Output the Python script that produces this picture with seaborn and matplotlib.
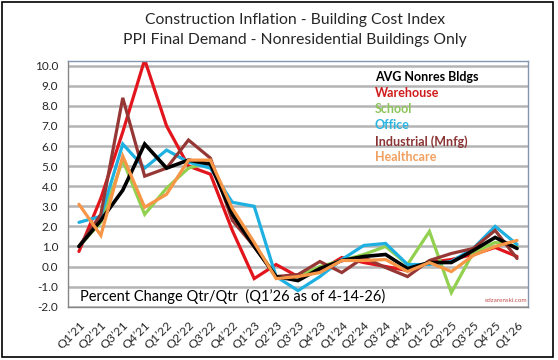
import pandas as pd
import seaborn as sns
import matplotlib.pyplot as plt
from matplotlib.patches import Rectangle

# Datos (variacion % trimestral)
quarters = ["Q1’21", "Q2’21", "Q3’21", "Q4’21", "Q1’22", "Q2’22", "Q3’22", "Q4’22",
            "Q1’23", "Q2’23", "Q3’23", "Q4’23", "Q1’24", "Q2’24", "Q3’24", "Q4’24",
            "Q1’25", "Q2’25", "Q3’25", "Q4’25", "Q1’26"]
avg_nonres = [1.0, 2.3, 3.8, 6.1, 4.9, 5.3, 5.1, 2.6, 1.0, -0.5, -0.7, -0.1, 0.3, 0.5, 0.6, -0.1, 0.2, 0.2, 0.8, 1.45, 0.9]
warehouse = [0.75, 3.4, 6.7, 10.3, 7.0, 5.0, 4.6, 1.8, -0.6, 0.1, -0.5, -0.2, 0.45, 0.2, 0.0, -0.2, 0.2, 0.35, 0.6, 0.95, 0.5]
school = [1.0, 2.2, 5.3, 2.6, 3.9, 4.9, 5.2, 2.8, 1.1, -0.5, -0.5, 0.0, 0.3, 0.6, 1.0, 0.1, 1.75, -1.3, 0.7, 1.2, 1.0]
office = [2.2, 2.5, 6.1, 4.9, 5.8, 5.2, 4.9, 3.2, 3.0, -0.5, -1.2, -0.5, 0.35, 1.05, 1.15, 0.1, 0.1, 0.25, 0.9, 2.0, 1.1]
industrial = [1.0, 2.6, 8.4, 4.5, 4.9, 6.3, 5.4, 2.3, 1.0, -0.5, -0.4, 0.25, -0.3, 0.45, -0.05, -0.5, 0.3, 0.65, 0.9, 1.8, 0.4]
healthcare = [3.1, 1.55, 5.5, 2.95, 3.6, 5.3, 5.3, 2.9, 1.2, -0.6, -0.5, -0.3, 0.3, 0.3, 0.35, -0.25, 0.2, -0.25, 0.55, 1.0, 1.3]

series = ["AVG Nonres Bldgs", "Warehouse", "School", "Office", "Industrial (Mnfg)", "Healthcare"]
line_colors = ["#000000", "#e3151c", "#92d050", "#1fb0e2", "#953735", "#f79646"]
text_colors = ["#000000", "#d01c1c", "#8cc45a", "#2ab4e0", "#8b3434", "#f0a060"]

df = pd.DataFrame({"Quarter": quarters, series[0]: avg_nonres, series[1]: warehouse,
                   series[2]: school, series[3]: office, series[4]: industrial, series[5]: healthcare})
df_long = df.melt(id_vars="Quarter", var_name="Serie", value_name="Pct")

sns.set_style("white")
plt.rcParams["font.family"] = ["Lato", "DejaVu Sans"]

fig = plt.figure(figsize=(5.58, 3.6), dpi=100)
ax = fig.add_axes([68 / 558, 1 - 306.7 / 360, 460 / 558, (306.7 - 60.7) / 360])

# Orden de dibujo: promedio casi encima, healthcare al final
draw_order = [series[1], series[2], series[3], series[4], series[0], series[5]]
sns.lineplot(data=df_long, x="Quarter", y="Pct", hue="Serie", hue_order=draw_order,
             palette=dict(zip(series, line_colors)), linewidth=2.3, ax=ax, legend=False,
             sort=False)
for ln in ax.get_lines():
    ln.set_solid_joinstyle("miter")
    if ln.get_color() in ("#000000", "k", (0.0, 0.0, 0.0, 1.0)):
        ln.set_linewidth(2.6)

ax.set_ylim(-2.0, 10.25)
ax.set_xlim(-0.5, len(quarters) - 0.5)
ax.set_yticks([v for v in range(-2, 11)])
ax.set_yticklabels([f"{v:.1f}" for v in range(-2, 11)], fontsize=8.5)
ax.set_xticks(range(len(quarters)))
ax.set_xticklabels(quarters, rotation=45, ha="right", rotation_mode="anchor", fontsize=8.7)
ax.set_xticks([i - 0.5 for i in range(len(quarters) + 1)], minor=True)
ax.tick_params(axis="x", which="major", length=0, pad=9)
ax.tick_params(axis="x", which="minor", length=5, color="#868686", width=1)
ax.tick_params(axis="y", length=4, color="#868686", pad=3)
ax.set_xlabel("")
ax.set_ylabel("")
ax.yaxis.grid(True, color="#b4b4b4", lw=1.8)
ax.set_axisbelow(True)
for s in ["top", "right"]:
    ax.spines[s].set_color("#8497b0")
    ax.spines[s].set_linewidth(1)
for s in ["left", "bottom"]:
    ax.spines[s].set_color("#868686")
    ax.spines[s].set_linewidth(1)

# Leyenda como texto coloreado
for i, (name, col) in enumerate(zip(series, text_colors)):
    ax.text(0.667, 0.932 - i * 0.065, name, transform=ax.transAxes, color=col,
            fontsize=9, fontweight="bold", va="center", ha="left")

ax.text(0.026, 0.04, "Percent Change Qtr/Qtr  (Q1’26 as of 4-14-26)", transform=ax.transAxes,
        fontsize=10.5, va="center", ha="left", color="black")
ax.text(0.998, 0.015, "edzarenski.com", transform=ax.transAxes, fontsize=4.5,
        color="#c0504d", va="bottom", ha="right")

fig.text(0.528, 1 - 20 / 360, "Construction Inflation - Building Cost Index", ha="center", va="center", fontsize=11.3)
fig.text(0.528, 1 - 40 / 360, "PPI Final Demand - Nonresidential Buildings Only", ha="center", va="center", fontsize=11.3)

fig.patches.append(Rectangle((2 / 558, 3 / 360), 551 / 558, 355 / 360, transform=fig.transFigure,
                             fill=False, edgecolor="black", lw=1.2))

plt.savefig("out.png", dpi=100)
